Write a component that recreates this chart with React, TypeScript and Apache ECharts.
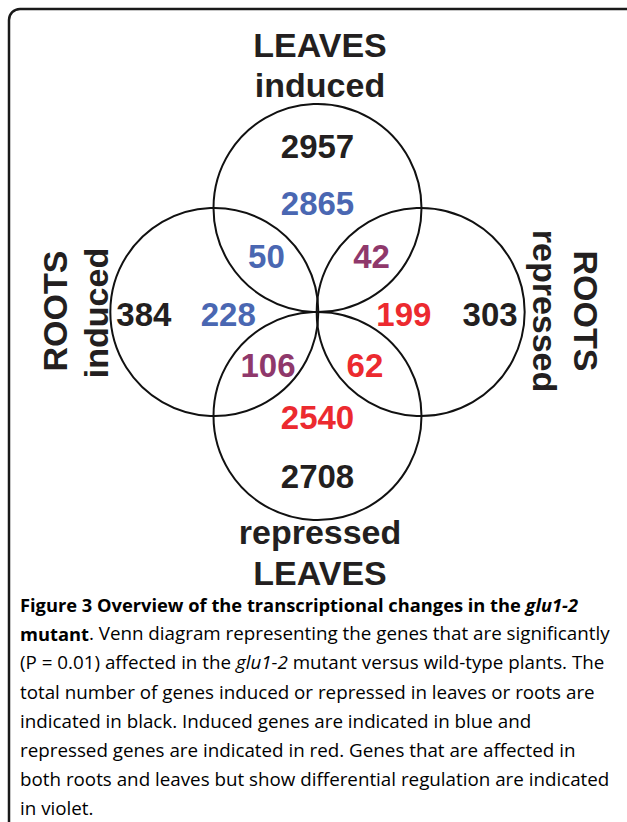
import React, { useEffect, useRef } from "react";
import * as echarts from "echarts";

// ---- data ----
const setNames = ["LEAVES induced", "ROOTS induced", "ROOTS repressed", "repressed LEAVES"];
// circle centres in diagram units (radius = 1 unit)
const setCentres: [number, number][] = [[0, 1], [-1, 0], [1, 0], [0, -1]];

const regionValues = [2957, 2865, 50, 42, 384, 228, 199, 303, 106, 62, 2540, 2708];
const regionKinds = ["total", "induced", "induced", "differential", "total", "induced", "repressed", "total", "differential", "repressed", "repressed", "total"];
// label positions in diagram units
const regionPos: [number, number][] = [
  [0, 1.587], [0, 1.04], [-0.495, 0.529], [0.524, 0.529],
  [-1.683, -0.02], [-0.865, -0.02], [0.837, -0.02], [1.673, -0.02],
  [-0.48, -0.51], [0.46, -0.51], [0, -1.01], [0, -1.577],
];

const kindColors: Record<string, string> = {
  total: "#231f20",
  induced: "#4a67b2",
  repressed: "#ec2a2f",
  differential: "#8f386b",
};

const captionLines: [string, string][][] = [
  [["b", "Figure 3 Overview of the transcriptional changes in the "], ["bi", "glu1-2"]],
  [["b", "mutant"], ["n", ". Venn diagram representing the genes that are significantly"]],
  [["n", "(P = 0.01) affected in the "], ["i", "glu1-2"], ["n", " mutant versus wild-type plants. The"]],
  [["n", "total number of genes induced or repressed in leaves or roots are"]],
  [["n", "indicated in black. Induced genes are indicated in blue and"]],
  [["n", "repressed genes are indicated in red. Genes that are affected in"]],
  [["n", "both roots and leaves but show differential regulation are indicated"]],
  [["n", "in violet."]],
];

const W = 627;
const H = 822;
const UNIT = 104; // px per diagram unit
const CX = 320;
const CY = 312;

export default function App() {
  const ref = useRef<HTMLDivElement>(null);
  useEffect(() => {
    if (!ref.current) return;
    const chart = echarts.init(ref.current, null, { renderer: "svg" });
    const span = 3;
    const labelFont = "Liberation Sans, Arial, sans-serif";
    const black = "#231f20";
    const capFont = "'Open Sans', sans-serif";
    const capSize = 18.8;
    const capBold = 18.3;

    const bigText = (x: number, y: number, text: string, rotation = 0) => ({
      type: "text",
      x,
      y,
      rotation,
      style: { text, font: `bold 34px ${labelFont}`, fill: black, align: "center", verticalAlign: "middle" },
    });

    const graphics: any[] = [
      {
        type: "rect",
        shape: { x: 9, y: 9, width: 800, height: 1000, r: 11 },
        style: { fill: "none", stroke: "#1a1a1a", lineWidth: 2.5 },
        silent: true,
      },
      bigText(320, 45, "LEAVES"),
      bigText(320, 85, "induced"),
      bigText(320, 532, "repressed"),
      bigText(320, 573, "LEAVES"),
      bigText(55, 311, "ROOTS", Math.PI / 2),
      bigText(96, 313, "induced", Math.PI / 2),
      bigText(586, 311, "ROOTS", -Math.PI / 2),
      bigText(545, 311, "repressed", -Math.PI / 2),
    ];

    const rich = {
      b: { fontFamily: capFont, fontSize: capBold, fontWeight: "bold", color: black },
      bi: { fontFamily: capFont, fontSize: capBold, fontWeight: "bold", fontStyle: "italic", color: black },
      i: { fontFamily: capFont, fontSize: capSize, fontStyle: "italic", color: black },
      n: { fontFamily: capFont, fontSize: capSize, color: black },
    };
    captionLines.forEach((line, idx) => {
      graphics.push({
        type: "text",
        x: 20,
        y: 604 + idx * 29.2,
        style: {
          text: line.map(([k, t]) => `{${k}|${t}}`).join(""),
          rich,
          align: "left",
          verticalAlign: "middle",
        },
      });
    });

    chart.setOption({
      animation: false,
      grid: {
        left: CX - span * UNIT,
        top: CY - span * UNIT,
        width: 2 * span * UNIT,
        height: 2 * span * UNIT,
        containLabel: false,
      },
      xAxis: { type: "value", min: -span, max: span, show: false },
      yAxis: { type: "value", min: -span, max: span, show: false },
      series: [
        {
          name: "sets",
          type: "scatter",
          symbol: "circle",
          symbolSize: 2 * UNIT,
          data: setCentres.map((c, i) => ({ name: setNames[i], value: c })),
          itemStyle: { color: "rgba(0,0,0,0)", borderColor: "#111111", borderWidth: 2, opacity: 1 },
          silent: true,
          z: 2,
        },
        {
          name: "regions",
          type: "scatter",
          symbolSize: 1,
          data: regionValues.map((v, i) => ({
            value: [regionPos[i][0], regionPos[i][1], v],
            label: { color: kindColors[regionKinds[i]] },
          })),
          itemStyle: { color: "rgba(0,0,0,0)", opacity: 1 },
          label: {
            show: true,
            position: "inside",
            formatter: (p: any) => String(p.value[2]),
            fontFamily: labelFont,
            fontWeight: "bold",
            fontSize: 33,
            opacity: 1,
          },
          silent: true,
          z: 3,
        },
      ],
      graphic: graphics,
    });
    return () => chart.dispose();
  }, []);
  return <div ref={ref} style={{ position: "absolute", left: 0, top: 0, width: W, height: H }} />;
}
